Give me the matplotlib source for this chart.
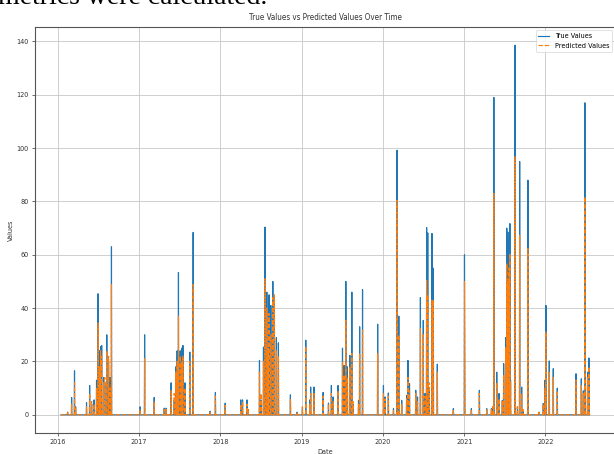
import pandas as pd
import matplotlib
matplotlib.use('Agg')
import matplotlib.pyplot as plt

# spike days (all other days are 0)
start_date = '2016-01-16'
end_date = '2022-07-18'

dates = [
    '2016-02-15', '2016-03-04', '2016-03-17', '2016-03-22', '2016-05-10', '2016-05-24',
    '2016-06-02', '2016-06-13', '2016-06-24', '2016-07-01', '2016-07-08', '2016-07-12',
    '2016-07-17', '2016-07-26', '2016-07-31', '2016-08-09', '2016-08-17', '2016-08-24',
    '2016-08-30',
    '2017-01-06', '2017-01-26', '2017-03-10', '2017-04-24', '2017-05-03', '2017-05-25',
    '2017-06-08', '2017-06-15', '2017-06-21', '2017-06-27', '2017-07-05', '2017-07-11',
    '2017-07-17', '2017-07-26', '2017-08-17', '2017-09-01', '2017-11-16', '2017-12-10',
    '2018-01-23', '2018-04-03', '2018-04-11', '2018-05-01', '2018-05-06', '2018-06-26',
    '2018-07-03', '2018-07-14', '2018-07-21', '2018-07-29', '2018-08-04', '2018-08-08',
    '2018-08-16', '2018-08-25', '2018-09-01', '2018-09-10', '2018-09-19', '2018-11-12',
    '2018-12-12',
    '2019-01-05', '2019-01-20', '2019-02-07', '2019-02-11', '2019-02-26', '2019-04-08',
    '2019-05-02', '2019-05-15', '2019-05-23', '2019-06-14', '2019-07-04', '2019-07-11',
    '2019-07-19', '2019-07-26', '2019-08-06', '2019-08-15', '2019-08-20', '2019-09-14',
    '2019-09-19', '2019-10-02', '2019-12-09',
    '2020-01-04', '2020-01-11', '2020-01-26', '2020-02-18', '2020-03-05', '2020-03-13',
    '2020-03-26', '2020-04-17', '2020-04-23', '2020-04-30', '2020-05-28', '2020-06-05',
    '2020-06-18', '2020-07-01', '2020-07-09', '2020-07-16', '2020-07-21', '2020-07-28',
    '2020-08-09', '2020-08-15', '2020-09-02', '2020-11-13',
    '2021-01-02', '2021-01-03', '2021-02-02', '2021-03-10', '2021-04-12', '2021-05-03',
    '2021-05-09', '2021-05-14', '2021-05-27', '2021-06-06', '2021-06-21', '2021-06-27',
    '2021-07-06', '2021-07-11', '2021-07-16', '2021-07-21', '2021-07-25', '2021-07-28',
    '2021-08-17', '2021-08-28', '2021-09-07', '2021-09-16', '2021-09-22', '2021-10-14',
    '2021-12-03', '2021-12-22', '2021-12-30',
    '2022-01-03', '2022-01-18', '2022-02-05', '2022-02-23', '2022-05-18', '2022-06-11',
    '2022-06-20', '2022-06-27', '2022-07-09', '2022-07-15',
]

true_values = [
    1, 6.5, 16.5, 3, 4.6, 11,
    4, 5.6, 13, 45.4, 24, 25.6,
    26, 14, 12, 30, 20, 14,
    63,
    3, 30, 6.5, 2.5, 2.5, 12,
    5.6, 18, 24, 53.4, 24, 25,
    26, 12, 23.5, 68.4, 1.3, 8.4,
    4.4, 5.6, 5.6, 5.6, 2, 20.4,
    5.6, 25.4, 70.4, 46, 20, 45,
    41, 50, 44, 29, 27, 7.5,
    1,
    2.8, 28, 5.6, 10.4, 10.4, 8.4,
    4.4, 11, 6.7, 11, 25, 18.5,
    50, 18, 22.3, 46, 4, 5.4,
    33, 47, 34,
    11, 6.7, 8.2, 2.3, 99.2, 37,
    5.4, 7.3, 20.4, 11.7, 9.2, 6.7,
    44, 35.4, 8, 70.2, 68.2, 10,
    68, 55, 19, 2.3,
    60, 25, 2.3, 9.2, 2.3, 2.3,
    3, 119, 16, 8, 5.4, 19.2,
    29, 70, 68.5, 65.4, 71.7, 13,
    138.6, 3, 95, 10.4, 1.7, 88,
    1, 4.2, 13,
    41, 20.2, 17.3, 10, 15.4, 13.5,
    9, 117, 16, 21.3,
]

predicted_values = [
    1, 4, 12, 2.5, 3, 8,
    5, 4, 10, 34.4, 18, 24,
    22, 12, 14, 24, 22, 10,
    48.8,
    2, 21, 5, 2, 2, 9,
    8, 16, 20, 37, 22, 20,
    22, 10, 20, 48.8, 1, 7,
    3.5, 4, 5, 4, 2, 16,
    8, 20, 51, 40, 25, 38,
    30, 44, 45, 24, 22, 6,
    1,
    3, 25.6, 4, 8, 8, 7,
    4, 8, 5, 9, 20, 15,
    35.4, 14, 18, 23, 5, 4,
    23, 31.7, 23,
    8, 6, 7, 2, 80.4, 30,
    4, 6, 14, 9, 8, 5,
    32.3, 30, 7, 50.4, 45, 12,
    43, 43, 16, 2,
    50, 20, 2, 8, 2, 2,
    3, 83, 12, 6, 5, 15,
    25, 56.7, 50, 55, 60.4, 12,
    96.7, 3, 67.3, 8, 2, 62.3,
    1, 4, 10,
    31, 16, 14, 9, 13, 11,
    8, 81.7, 14, 18,
]

days = pd.date_range(start_date, end_date, freq='D')
spikes = pd.DataFrame({'True': true_values, 'Pred': predicted_values},
                      index=pd.to_datetime(dates))
df = spikes.reindex(days, fill_value=0)

plt.rcParams['font.family'] = 'DejaVu Sans'
plt.rcParams['font.stretch'] = 'condensed'

fig = plt.figure(figsize=(6.14, 4.54), dpi=100)

# bit of the document text above the screenshot
fig.text(-0.004, 1 - 4 / 454, 'metrics were calculated.', fontsize=20,
         family=['Liberation Serif', 'DejaVu Serif'], fontstretch='normal',
         va='baseline', ha='left')

ax = fig.add_axes([34.5 / 614, 20.7 / 454, 581.5 / 614, 406.6 / 454])
ax.plot(df.index, df['True'], label='True Values', color='#1f77b4', linewidth=0.85)
ax.plot(df.index, df['Pred'], label='Predicted Values', color='#ff7f0e',
        linewidth=0.85, linestyle='--')

ax.set_title('True Values vs Predicted Values Over Time', fontsize=5.8, pad=4.5, color='#333333')
ax.set_xlabel('Date', fontsize=5.2, labelpad=2.5, color='#333333')
ax.set_ylabel('Values', fontsize=5.2, labelpad=2, color='#333333')
ax.tick_params(labelsize=5.2, length=2.2, width=0.6, pad=2, color='#555555',
               labelcolor='#333333')
for sp in ax.spines.values():
    sp.set_color('#555555')
    sp.set_linewidth(0.8)
ax.grid(color='#c8c8c8', linewidth=0.6)

leg = ax.legend(loc='upper right', fontsize=5.2, handlelength=1.5,
                borderaxespad=0.5, framealpha=0.8)
leg.get_frame().set_linewidth(0.5)

fig.savefig('out.png', dpi=100)
